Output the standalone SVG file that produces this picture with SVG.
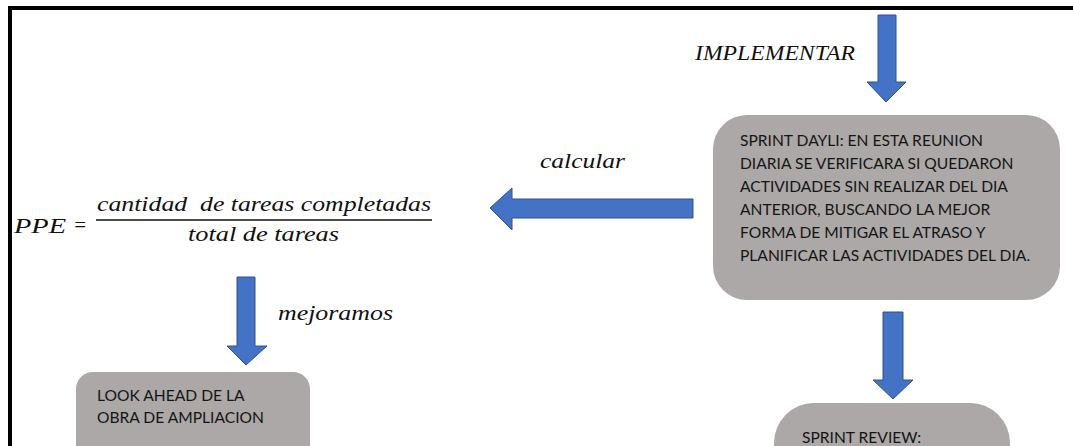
<svg xmlns="http://www.w3.org/2000/svg" width="1073" height="446" viewBox="0 0 1073 446">
  <style>
    .box { fill: #aba8a7; }
    .txt { font-family: Lato, "Liberation Sans", Arial, sans-serif; font-size: 15.6px; fill: #151515; }
    .math { font-family: "Liberation Serif", "Times New Roman", serif; font-style: italic; font-size: 21px; fill: #111; }
    .arrow { fill: #4472c4; stroke: #2f528f; stroke-width: 1; }
  </style>

  <rect width="1073" height="446" fill="#ffffff"/>
  <!-- outer frame (top and left edges) -->
  <path d="M10 446 V8 H1073" fill="none" stroke="#000" stroke-width="4"/>

  <!-- formula -->
  <g id="formula">
    <text class="math" x="14" y="233" textLength="52" lengthAdjust="spacingAndGlyphs">PPE</text>
    <text class="math" x="73" y="232" textLength="14" lengthAdjust="spacingAndGlyphs" font-style="normal">=</text>
    <text class="math" x="97" y="211" textLength="334" lengthAdjust="spacingAndGlyphs" xml:space="preserve">cantidad  de tareas completadas</text>
    <line x1="96" y1="220" x2="432" y2="220" stroke="#111" stroke-width="1.4"/>
    <text class="math" x="188" y="241" textLength="151" lengthAdjust="spacingAndGlyphs">total de tareas</text>
  </g>

  <!-- daily sprint -->
  <g id="sprint-dayli">
    <rect class="box" x="713" y="115" width="347" height="185" rx="34"/>
    <text class="txt" x="740" y="146">SPRINT DAYLI: EN ESTA REUNION</text>
    <text class="txt" x="740" y="169">DIARIA SE VERIFICARA SI QUEDARON</text>
    <text class="txt" x="740" y="192">ACTIVIDADES SIN REALIZAR DEL DIA</text>
    <text class="txt" x="740" y="215">ANTERIOR, BUSCANDO LA MEJOR</text>
    <text class="txt" x="740" y="238">FORMA DE MITIGAR EL ATRASO Y</text>
    <text class="txt" x="740" y="261">PLANIFICAR LAS ACTIVIDADES DEL DIA.</text>
  </g>

  <!-- look ahead -->
  <g id="look-ahead">
    <rect class="box" x="76" y="372" width="234" height="110" rx="17"/>
    <text class="txt" x="97" y="401">LOOK AHEAD DE LA</text>
    <text class="txt" x="97" y="423">OBRA DE AMPLIACION</text>
  </g>

  <!-- sprint review -->
  <g id="sprint-review">
    <rect class="box" x="774" y="403" width="236" height="110" rx="40"/>
    <text class="txt" x="802" y="443">SPRINT REVIEW:</text>
  </g>

  <!-- block arrows and their labels -->
  <g id="connectors">
    <polygon class="arrow" points="878,15 896,15 896,82 906,82 886,102 867,82 878,82"/>
    <text class="math" x="695" y="60" textLength="160" lengthAdjust="spacingAndGlyphs">IMPLEMENTAR</text>

    <polygon class="arrow" points="693,199 693,218 512,218 512,230 490,208 512,188 512,199"/>
    <text class="math" x="540" y="168" textLength="85" lengthAdjust="spacingAndGlyphs">calcular</text>

    <polygon class="arrow" points="237,277 255,277 255,346 267,346 246,365 227,346 237,346"/>
    <text class="math" x="278" y="320" textLength="115" lengthAdjust="spacingAndGlyphs">mejoramos</text>

    <polygon class="arrow" points="883,312 903,312 903,380 913,380 893,399 873,380 883,380"/>
  </g>
</svg>
